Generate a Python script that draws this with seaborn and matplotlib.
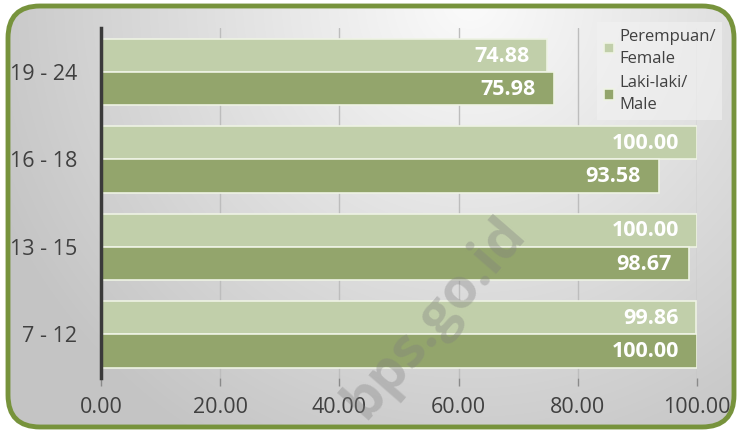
import numpy as np
import pandas as pd
import matplotlib
matplotlib.use("Agg")
import matplotlib.pyplot as plt
from matplotlib.patches import FancyBboxPatch
import seaborn as sns

# data
kelompok_umur = ['19 - 24', '16 - 18', '13 - 15', '7 - 12']
perempuan = [74.88, 100.00, 100.00, 99.86]
laki_laki = [75.98, 93.58, 98.67, 100.00]
label_p = 'Perempuan/\nFemale'
label_l = 'Laki-laki/\nMale'
x_ticks = [0, 20, 40, 60, 80, 100]

df = pd.DataFrame({
    'umur': kelompok_umur * 2,
    'nilai': perempuan + laki_laki,
    'jk': [label_p] * 4 + [label_l] * 4,
})

sns.set_style('white')
plt.rcParams['font.family'] = ['Open Sans', 'DejaVu Sans']

fig = plt.figure(figsize=(7.4, 4.33), dpi=100)

# background with rounded green border (pixel units)
bg = fig.add_axes([0, 0, 1, 1])
bg.set_xlim(0, 740)
bg.set_ylim(433, 0)
bg.axis('off')
yy, xx = np.mgrid[0:433, 0:740]
d = np.sqrt(((xx - 470) / 520.0) ** 2 + ((yy - 0) / 520.0) ** 2)
grad = np.clip(d, 0, 1)
img = bg.imshow(grad, cmap=matplotlib.colors.LinearSegmentedColormap.from_list('g', ['#fbfbfb', '#c4c4c4']),
                extent=(0, 740, 433, 0), aspect='auto', zorder=0)
frame = FancyBboxPatch((8, 6), 726, 421, boxstyle='round,pad=0,rounding_size=32',
                       facecolor='none', edgecolor='#77933c', linewidth=3.5, zorder=2)
bg.add_patch(frame)
img.set_clip_path(frame)

ax = fig.add_axes([101 / 740, 55 / 433, 596 / 740, 350 / 433])
ax.patch.set_alpha(0)

sns.barplot(data=df, y='umur', x='nilai', hue='jk', order=kelompok_umur,
            hue_order=[label_p, label_l], palette=['#c3d5a4', '#97ae63'],
            orient='h', width=0.76, edgecolor='#eef3e4', linewidth=1.2,
            ax=ax, zorder=3)

ax.set_xlim(0, 100)
ax.set_ylim(3.5, -0.5)
ax.set_xticks(x_ticks)
ax.set_xticklabels(['%.2f' % t for t in x_ticks])
ax.set_xlabel('')
ax.set_ylabel('')
ax.xaxis.grid(True, color='#bdbdbd', linewidth=1, zorder=1)
ax.set_axisbelow(True)
for s in ['top', 'right', 'bottom']:
    ax.spines[s].set_visible(False)
ax.spines['left'].set_color('#3a3a3a')
ax.spines['left'].set_linewidth(2.5)
ax.spines['left'].set_zorder(5)
ax.tick_params(axis='x', which='both', bottom=True, length=6, width=1, color='#8a8a8a',
               pad=8, labelsize=15.5, labelcolor='#404040')
ax.tick_params(axis='y', length=0, pad=17, labelsize=15.5, labelcolor='#404040')

# value labels
for cont in ax.containers:
    for p in cont:
        v = p.get_width()
        ax.text(v - 3, p.get_y() + p.get_height() / 2 + 0.01, '%.2f' % v,
                ha='right', va='center', color='white', fontsize=15.5,
                fontweight='bold', zorder=6)

leg = ax.legend(loc='upper left', bbox_to_anchor=(589 / 740, 1 - 14 / 433),
                bbox_transform=fig.transFigure, frameon=True, fontsize=12,
                handlelength=0.6, handleheight=0.6, handletextpad=0.3,
                labelspacing=0.5, borderpad=0.4, labelcolor='#404040')
leg.get_frame().set_facecolor('#f2f2f2')
leg.get_frame().set_alpha(0.6)
leg.get_frame().set_edgecolor('none')
leg.get_frame().set_boxstyle('square', pad=0)
for t in leg.get_texts():
    t.set_linespacing(1.5)

# watermark
fig.text(435 / 740, 1 - 318 / 433, 'bps.go.id', rotation=49, ha='center', va='center',
         fontsize=40, fontweight='bold', color='#7f7f7f', alpha=0.35, zorder=10)

fig.savefig('out.png', dpi=100)
